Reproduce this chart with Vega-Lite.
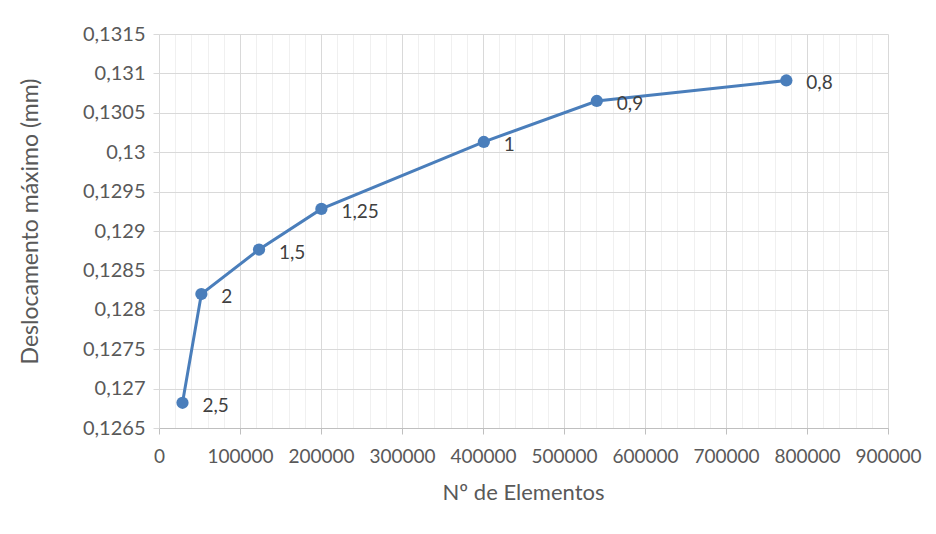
{
  "$schema": "https://vega.github.io/schema/vega-lite/v6.json",
  "autosize": "none",
  "padding": {"left": 159, "top": 34, "right": 48, "bottom": 106},
  "width": 729,
  "height": 394,
  "background": "#ffffff",
  "config": {
    "locale": {"number": {"decimal": ",", "thousands": ".", "grouping": [3], "currency": ["", ""]}},
    "view": {"stroke": null},
    "font": "Lato"
  },
  "data": {
    "values": [
      {"elementos": 29000, "deslocamento": 0.12682, "malha": "2,5"},
      {"elementos": 52300, "deslocamento": 0.12820, "malha": "2"},
      {"elementos": 123500, "deslocamento": 0.128765, "malha": "1,5"},
      {"elementos": 200500, "deslocamento": 0.12928, "malha": "1,25"},
      {"elementos": 401000, "deslocamento": 0.13013, "malha": "1"},
      {"elementos": 540500, "deslocamento": 0.13065, "malha": "0,9"},
      {"elementos": 774500, "deslocamento": 0.13091, "malha": "0,8"}
    ]
  },
  "encoding": {
    "x": {
      "field": "elementos", "type": "quantitative",
      "scale": {"domain": [0, 900000], "nice": false, "zero": false},
      "axis": {
        "title": "Nº de Elementos",
        "values": [0,20000,40000,60000,80000,100000,120000,140000,160000,180000,200000,220000,240000,260000,280000,300000,320000,340000,360000,380000,400000,420000,440000,460000,480000,500000,520000,540000,560000,580000,600000,620000,640000,660000,680000,700000,720000,740000,760000,780000,800000,820000,840000,860000,880000,900000],
        "format": "d",
        "labelExpr": "datum.value % 100000 === 0 ? datum.label : ''",
        "labelOverlap": false,
        "labelFlush": false,
        "grid": true,
        "gridColor": {"condition": {"test": "datum.value % 100000 === 0", "value": "#d9d9d9"}, "value": "#f0f0f0"},
        "gridWidth": 1,
        "tickColor": {"condition": {"test": "datum.value % 100000 === 0", "value": "#bfbfbf"}, "value": "transparent"},
        "tickSize": 6,
        "domainColor": "#bfbfbf",
        "labelColor": "#595959",
        "labelFontSize": 19,
        "labelPadding": 13,
        "labelFont": "Lato",
        "titleColor": "#595959",
        "titleFontSize": 22,
        "titleFontWeight": "normal",
        "titleFont": "Lato",
        "titleX": 364,
        "titleY": 54,
        "titleBaseline": "top"
      }
    },
    "y": {
      "field": "deslocamento", "type": "quantitative",
      "scale": {"domain": [0.1265, 0.1315], "nice": false, "zero": false},
      "axis": {
        "title": "Deslocamento máximo (mm)",
        "values": [0.1265, 0.127, 0.1275, 0.128, 0.1285, 0.129, 0.1295, 0.13, 0.1305, 0.131, 0.1315],
        "format": "~g",
        "labelOverlap": false,
        "labelFlush": false,
        "grid": true,
        "gridColor": "#d9d9d9",
        "domain": false,
        "tickColor": "#d9d9d9",
        "tickSize": 6,
        "labelColor": "#595959",
        "labelFontSize": 20,
        "labelPadding": 8,
        "labelFont": "Lato",
        "titleColor": "#595959",
        "titleFontSize": 23,
        "titleFontWeight": "normal",
        "titleFont": "Lato",
        "titleX": -129,
        "titleY": 187,
        "titleAngle": -90,
        "titleBaseline": "middle"
      }
    }
  },
  "layer": [
    {
      "mark": {"type": "line", "color": "#4a7ebb", "strokeWidth": 3}
    },
    {
      "mark": {"type": "point", "filled": true, "opacity": 1, "color": "#4a7ebb", "size": 150}
    },
    {
      "mark": {"type": "text", "align": "left", "baseline": "middle", "dx": 20, "dy": 3, "fontSize": 19, "color": "#404040", "font": "Lato"},
      "encoding": {"text": {"field": "malha"}}
    }
  ]
}
